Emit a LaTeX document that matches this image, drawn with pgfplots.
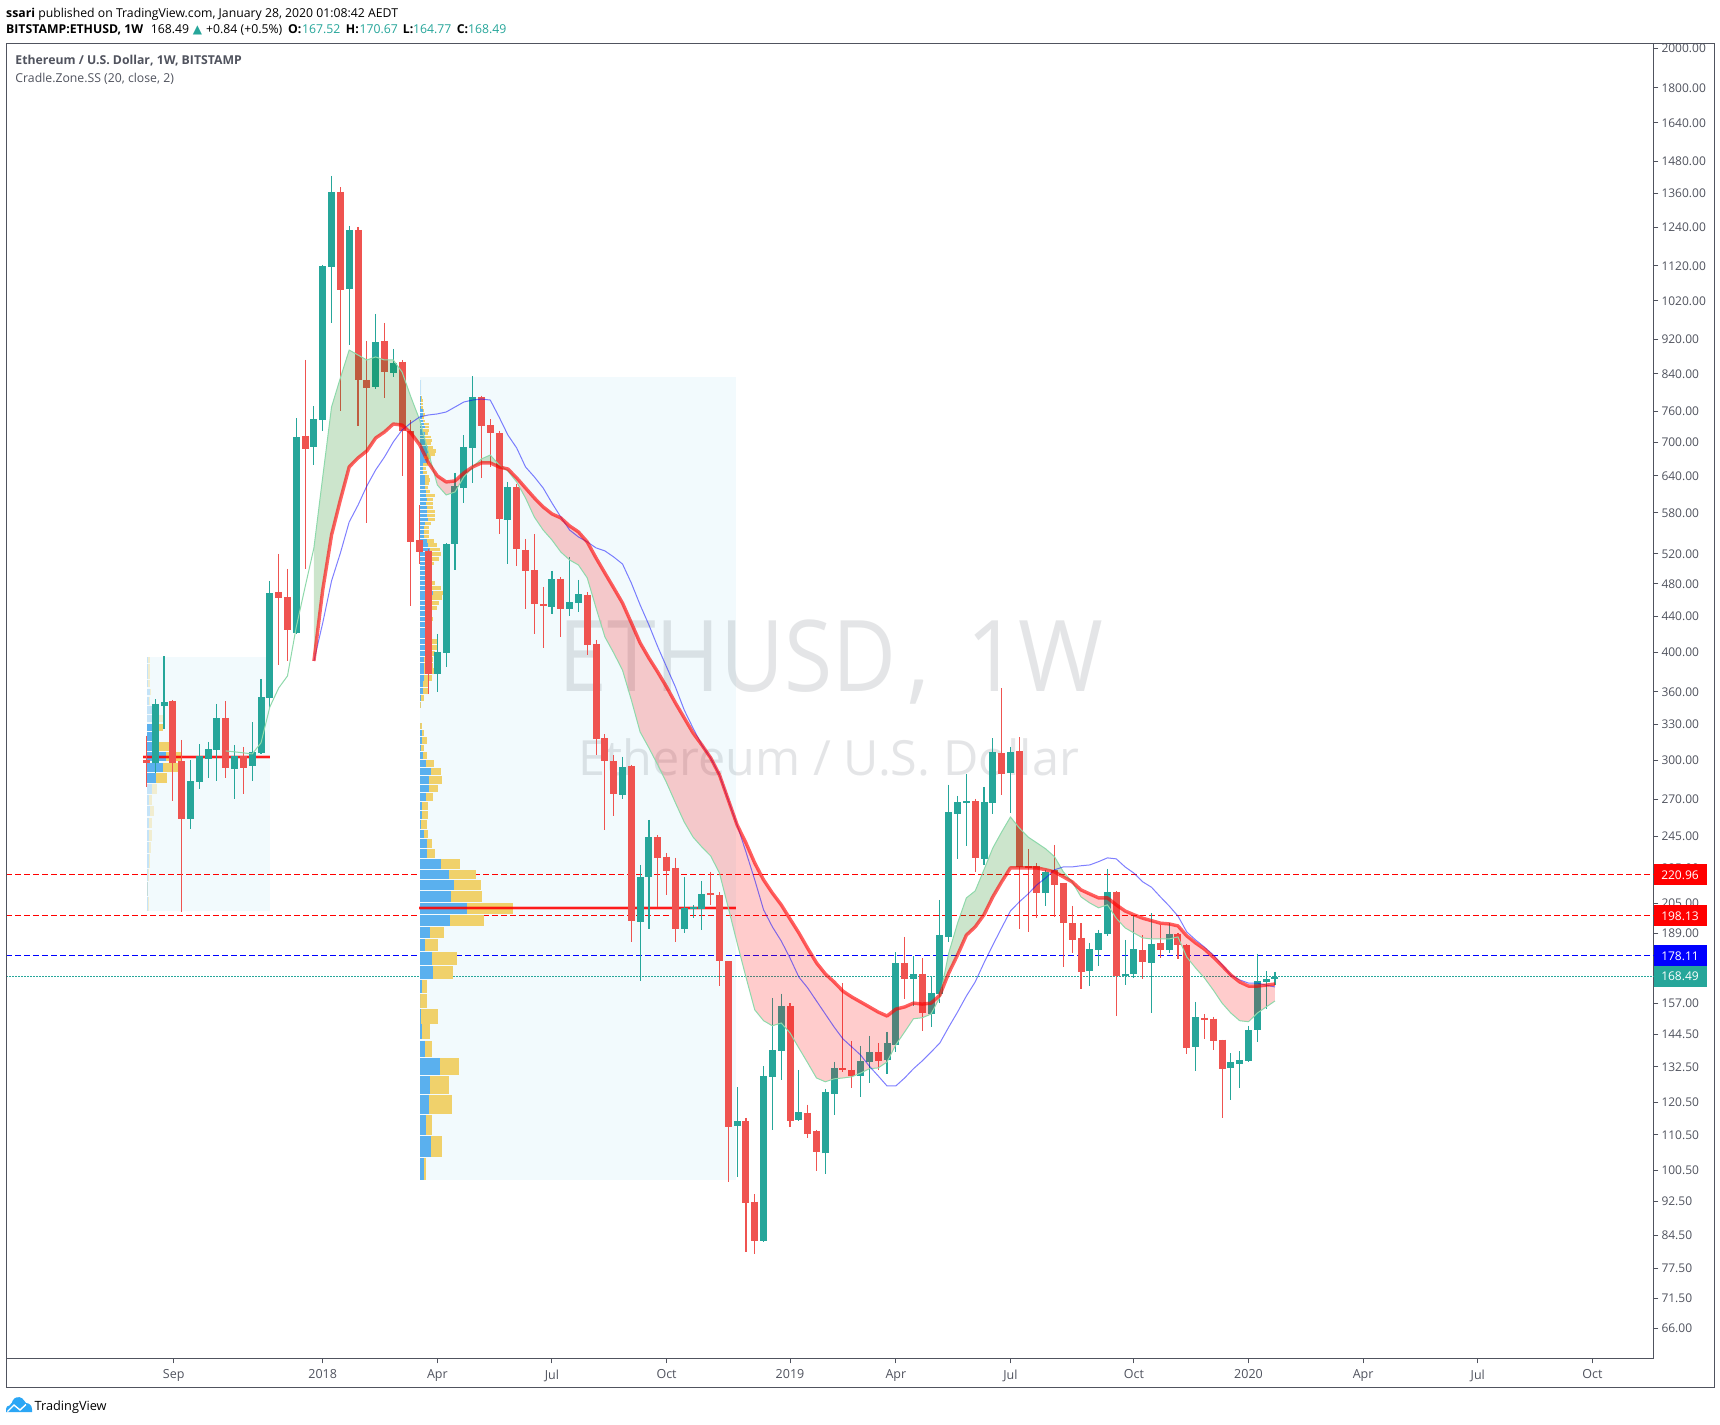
\documentclass[border=0pt]{standalone}
\usepackage{fontspec}
\usepackage{pgfplots}
\usepackage{pgfplotstable}
\pgfplotsset{compat=1.18}
\setmainfont{Open Sans}
\newfontfamily\symfont{DejaVu Sans}
\definecolor{tvteal}{HTML}{26A69A}
\definecolor{tvred}{HTML}{EF5350}
\definecolor{frame}{HTML}{50535E}
\definecolor{boxbg}{HTML}{F2FAFD}
\definecolor{vpblue}{HTML}{5AB0EE}
\definecolor{vpyel}{HTML}{F0D16B}
\definecolor{grline}{HTML}{8ED9AB}
\definecolor{logo}{HTML}{2BA6F5}
\definecolor{zonegreen}{RGB}{0,128,0}
\definecolor{wmark}{RGB}{50,60,70}
\newcommand{\cu}[5]{\addplot[tvteal,line width=1.1pt,forget plot] coordinates {(#1,#3)(#1,#4)};\addplot[tvteal,line width=7pt,forget plot] coordinates {(#1,#2)(#1,#5)};}
\newcommand{\cd}[5]{\addplot[tvred,line width=1.1pt,forget plot] coordinates {(#1,#3)(#1,#4)};\addplot[tvred,line width=7pt,forget plot] coordinates {(#1,#2)(#1,#5)};}
% volume profile row: centre price, half height (px), blue and total length (px)
\newcommand{\vleft}{0}
\newcommand{\V}[4]{%
 \pgfmathsetmacro\vlo{#1*(1-#2/375.2)}\pgfmathsetmacro\vhi{#1*(1+#2/375.2)}%
 \pgfmathsetmacro\vb{\vleft+#3/8.817}\pgfmathsetmacro\vy{\vleft+#4/8.817}%
 \addplot[fill=vpyel,draw=none,forget plot] coordinates {(\vb,\vlo)(\vy,\vlo)(\vy,\vhi)(\vb,\vhi)} --cycle;
 \addplot[fill=vpblue,draw=none,forget plot] coordinates {(\vleft,\vlo)(\vb,\vlo)(\vb,\vhi)(\vleft,\vhi)} --cycle;}
\newcommand{\Vp}[4]{%
 \pgfmathsetmacro\vlo{#1*(1-#2/375.2)}\pgfmathsetmacro\vhi{#1*(1+#2/375.2)}%
 \pgfmathsetmacro\vb{\vleft+#3/8.817}\pgfmathsetmacro\vy{\vleft+#4/8.817}%
 \addplot[fill=vpyel,draw=none,fill opacity=.3,forget plot] coordinates {(\vb,\vlo)(\vy,\vlo)(\vy,\vhi)(\vb,\vhi)} --cycle;
 \addplot[fill=vpblue,draw=none,fill opacity=.3,forget plot] coordinates {(\vleft,\vlo)(\vb,\vlo)(\vb,\vhi)(\vleft,\vhi)} --cycle;}
\pgfplotstableread{
i r b g
19 390.8 390.8 528.2
20 472.2 432.5 638.3
21 546.7 483.8 769
22 600.2 521 830.9
23 655.4 566 895
24 671.3 592 883.3
25 684 623 871.6
26 708 650.2 878.7
27 719.4 673 871.6
28 734.9 700.6 871.6
29 733 723.4 844
30 717.5 737 789.7
31 695 748.9 742.8
32 662.5 752.9 680.3
33 640 755 624.7
34 629.7 758.9 608.3
35 631.5 769 613.2
36 645 779.4 638.3
37 655.4 783.5 655.4
38 662.5 785.6 669.6
39 662.5 783.5 676.6
40 655.4 748.9 659
41 651.9 713.6 648.4
42 636.5 689.4 629.7
43 619.7 655.4 603.4
44 603.4 638.3 573.5
45 589.2 619.7 554
46 578.3 595.4 539.5
47 572.2 573.5 522.5
48 560 554 511.5
49 551.2 543.9 504.7
50 536.7 536.7 487.6
51 514.2 528.2 450
52 494 524 416.7
53 474.8 515.6 399.3
54 456 506 381.4
55 432.5 481 352.3
56 410 453.7 323.4
57 393.8 430 309.9
58 379.4 405.7 296.2
59 364.6 384.6 282.4
60 349.4 364.6 267.8
61 335.8 342.9 254.4
62 322.6 326.8 244.4
63 312.4 312.4 238
64 301.8 301.8 232.4
65 288.4 288.4 222
66 269.8 269.8 202.4
67 252.4 252.4 184.3
68 240.6 234.9 168.3
69 228 218 154.2
70 218 201.3 149.8
71 210.5 192.4 147.8
72 204 185.3 148.9
73 196.5 177 145
74 189.3 168.3 139.3
75 181.7 163.5 133.9
76 174.8 157.9 128.6
77 169.7 152.5 127.3
78 166.1 147.3 128.3
79 162.1 142.7 128.6
80 159.6 139.7 129
81 157.5 136.7 130.3
82 155.4 132.7 131.8
83 153.3 129.3 132.1
84 151.7 125.9 134.2
85 154.5 125.9 140.5
86 155.4 128.6 145.4
87 157 131.8 150.6
88 156.6 134.6 151
89 157 137.8 152.5
90 160.4 141.2 159.6
91 170.1 147.3 179.4
92 178.5 153.3 194.3
93 188.2 160 207.8
94 192.4 166.1 211.7
95 198.7 174.8 224
96 208.4 183.3 237.4
97 216.9 191.9 247.7
98 225.1 200.7 257.8
99 225.1 205.6 250.4
100 225.1 210 244.4
101 225.1 215.2 240.6
102 224 219.2 236.8
103 222.7 224 231.9
104 219.8 225.7 222.7
105 216.9 225.7 216.9
106 212.3 226.4 208.4
107 210 226.9 205
108 207.8 228.9 202.4
109 207.8 231.2 204
110 204 230.6 196.9
111 200.7 225.7 191.9
112 198.7 222 189.3
113 196.9 216.9 186.8
114 195.6 213.8 186.3
115 194.3 208.4 186.3
116 193.9 203.4 186.3
117 192.9 198 187.3
118 187.8 189.8 177.5
119 184.3 185.8 172.4
120 181.3 182.3 167.9
121 177.5 178.5 162.6
122 173.4 173.9 157
123 169.2 169.2 152.9
124 166.1 167 149.8
125 164.3 165.6 149.4
126 164.3 165.6 152.9
127 164.7 164.7 155.4
128 165.2 163.9 157.9
}\lines
\begin{document}
\begin{tikzpicture}[x=1pt,y=1pt]
\fill[white] (0,0) rectangle (1720,1424);
\path[use as bounding box] (0,0) rectangle (1720,1424);
\begin{axis}[
  at={(6pt,65.5pt)},anchor=south west,scale only axis,
  width=1647.3pt,height=1315pt,
  xmin=-15.924,xmax=170.91,ymin=60.89,ymax=2026.3,
  ymode=log,clip=false,
  axis line style={color=frame,line width=1pt},
  tick align=outside,ytick pos=right,xtick pos=bottom,
  major tick length=5pt,
  every tick/.style={color=frame,line width=1pt},
  log ticks with fixed point,
  minor y tick num=0,minor ytick={},
  xtick={3.1,20,33,46,59,73,85,98,112,125,138,151,164},
  xticklabels={Sep,2018,Apr,Jul,Oct,2019,Apr,Jul,Oct,2020,Apr,Jul,Oct},
  ytick={66,71.5,77.5,84.5,92.5,100.5,110.5,120.5,132.5,144.5,157,172,189,205,225,245,270,300,330,360,400,440,480,520,580,640,700,760,840,920,1020,1120,1240,1360,1480,1640,1800,2000},
  yticklabels={66.00,71.50,77.50,84.50,92.50,100.50,110.50,120.50,132.50,144.50,157.00,172.00,189.00,205.00,225.00,245.00,270.00,300.00,330.00,360.00,400.00,440.00,480.00,520.00,580.00,640.00,700.00,760.00,840.00,920.00,1020.00,1120.00,1240.00,1360.00,1480.00,1640.00,1800.00,2000.00},
  yticklabel style={anchor=west,inner sep=0pt,text=frame,font=\fontsize{12}{14}\selectfont},
  xticklabel style={inner sep=0pt,text=frame,font=\fontsize{12.5}{14}\selectfont},
  yticklabel shift=3pt,xticklabel shift=6pt,
]
% boxes
\addplot[fill=boxbg,draw=none,forget plot] coordinates {(0.07,200.7)(14.02,200.7)(14.02,395.2)(0.07,395.2)} --cycle;
\addplot[fill=boxbg,draw=none,forget plot] coordinates {(31.03,98)(66.87,98)(66.87,833.7)(31.03,833.7)} --cycle;
% watermark
\node[anchor=base,text=wmark,text opacity=.13,font=\fontsize{99}{99}\selectfont] at (axis cs:77.65,360.7) {\scalebox{.887}[1]{ETHUSD}\hspace{11pt}\scalebox{.925}[1]{,}\hspace{36pt}\scalebox{.925}[1]{1W}};
\node[anchor=base,text=wmark,text opacity=.13,font=\fontsize{48.5}{49}\selectfont] at (axis cs:77.4,287.9) {Ethereum / U.S. Dollar};
% price lines
\addplot[red,line width=1pt,dash pattern=on 6pt off 3pt,forget plot] coordinates {(-15.924,220.96)(170.91,220.96)};
\addplot[red,line width=1pt,dash pattern=on 6pt off 3pt,forget plot] coordinates {(-15.924,198.13)(170.91,198.13)};
\addplot[blue,line width=1pt,dash pattern=on 6pt off 3pt,forget plot] coordinates {(-15.924,178.11)(170.91,178.11)};
\addplot[tvteal,line width=1pt,dash pattern=on 1.5pt off 1.5pt,forget plot] coordinates {(-15.924,168.49)(170.91,168.49)};
% volume profile 1
\renewcommand{\vleft}{0.07}
\Vp{391.9}{2.7}{1}{3}\Vp{384.3}{3.3}{1}{3}\Vp{376.2}{3.8}{1}{3}\Vp{367.6}{3.5}{1}{3}\Vp{359.9}{3.3}{2.7}{4}\Vp{351.7}{4}{2}{3}\Vp{343}{4}{6.3}{8.3}\Vp{335.2}{3.8}{8}{16}
\V{327.3}{3.8}{7}{16}\V{319.3}{4.5}{7}{12.3}\V{310.9}{4.5}{8}{22}\V{302.7}{4.5}{19}{35}\V{294.4}{4.3}{16.3}{30.7}\V{286.2}{5}{9.3}{20}
\Vp{278}{5}{5}{10}\Vp{269.9}{5}{2.3}{5}\Vp{261.9}{5.3}{3.3}{6.7}\Vp{253.7}{5.3}{2.3}{5}\Vp{245.6}{5.3}{2}{5}\Vp{237.7}{5.7}{2}{3.7}\Vp{229.2}{6.7}{1.7}{3}\Vp{221}{6}{1}{1.3}\Vp{213}{7}{.3}{1}\Vp{204.6}{7}{.5}{.7}
% volume profile 2
\renewcommand{\vleft}{31.03}
\Vp{810.4}{7.5}{.7}{.7}
\V{789.1}{1.3}{.7}{2}\V{782.1}{1.3}{1}{2.7}\V{775.2}{1.3}{1}{2.7}\V{768.3}{1.3}{1}{3.3}\V{761.5}{1.3}{3.3}{4.3}\V{754.2}{1.3}{2.7}{5.3}\V{747.5}{1.3}{2}{4}\V{740.9}{1.3}{3.3}{5.3}\V{734.9}{1.3}{4.3}{8.7}\V{729.1}{1.3}{5.3}{9.3}\V{722.6}{1.3}{3.3}{8.7}\V{716.3}{1.3}{5}{8}\V{710}{1.3}{5}{11}\V{703.6}{1.3}{5}{11.7}\V{697.5}{1.3}{5}{10.7}
\V{690.7}{1.6}{8.3}{12.7}\V{684}{1.6}{8.3}{16}\V{677.9}{1.6}{6.7}{15}\V{671.9}{1.6}{4}{10.7}\V{666}{1.6}{6.7}{8.3}\V{659.5}{1.6}{3.3}{7.7}\V{653.1}{1.6}{3.3}{6}\V{646.1}{1.6}{3.3}{6.7}\V{639.3}{1.6}{4.7}{9.3}\V{633.1}{1.6}{5}{10}\V{627}{1.6}{5}{9}\V{620.3}{1.6}{5}{8.3}\V{613.7}{1.6}{6}{10}\V{607.8}{1.6}{6}{15}\V{601.3}{1.6}{6.7}{13.3}\V{595}{1.6}{6}{13.3}\V{588.7}{1.6}{6.7}{12.7}\V{582.4}{1.6}{7.3}{14.7}\V{576.2}{1.6}{7.3}{14.7}\V{570.1}{1.6}{8.3}{15}\V{564.1}{1.6}{5}{10.7}
\V{557.6}{1.8}{4}{9.3}\V{551.2}{1.8}{4}{8.7}\V{544.8}{1.8}{4}{9}\V{538.1}{1.8}{6.7}{14.3}\V{532}{1.8}{8.3}{16.7}\V{525.8}{1.8}{10}{20}\V{519.4}{1.9}{9.3}{20.7}\V{512.9}{1.9}{8.3}{19}\V{506.7}{1.9}{5}{14}\V{500.4}{1.9}{5}{6}\V{493.8}{2}{5}{10}\V{487.7}{2}{5}{12}\V{481.6}{2}{6.7}{15.3}\V{475.3}{2}{8.3}{21.3}\V{468.9}{2}{12.7}{22.7}\V{462.7}{2.1}{10}{21.7}\V{456.2}{2.2}{7.7}{19}\V{449.7}{2.2}{6.7}{17.3}
\V{443.5}{2.3}{5}{6.7}\V{437.2}{2.3}{5}{12.7}\V{430.6}{2.4}{5}{8.3}\V{424.2}{2.4}{5}{11.7}\V{417.9}{2.4}{5}{10}\V{411.6}{2.4}{5}{16.7}\V{405.4}{2.5}{5}{18.3}\V{399}{2.6}{5}{15}\V{392.7}{2.6}{4.3}{13.3}\V{386.4}{2.6}{4.3}{13.3}\V{380.3}{2.7}{4}{15}\V{373.6}{2.8}{4}{12}\V{367.4}{2.8}{3.3}{9.3}\V{361.2}{3}{3.3}{8.3}\V{354.2}{3}{1.3}{4}\V{347.7}{3}{0}{1}
\V{328.7}{2.8}{0}{2}\V{322.6}{2.8}{2}{4.3}\V{316.1}{3.3}{2}{7}\V{310}{3}{1}{4}\V{304}{3.5}{2.7}{7}\V{297.6}{3.5}{6.3}{14}\V{291.3}{3.5}{11.3}{21}\V{284.7}{4}{9}{22.3}\V{278.4}{3.5}{9}{18}\V{272.1}{4}{6}{13}\V{265.6}{4}{2}{8.3}\V{259.3}{4}{2}{8.3}\V{253}{4.5}{1}{7}\V{246.5}{4}{4}{8}\V{240.5}{4.5}{7}{12.3}\V{234.1}{4.5}{7}{15}\V{227.6}{5}{21}{40}\V{221.4}{4.5}{29}{56}\V{215.2}{5}{34}{61}\V{208.8}{5.5}{31}{62}\V{202.3}{5.5}{47}{93}\V{195.9}{5.5}{30}{64}\V{189.7}{5.5}{10}{24.3}\V{183.4}{6}{5}{18.3}\V{177}{6.5}{12}{37}\V{170.5}{6.5}{13}{33}\V{164.2}{6.5}{2}{7.3}\V{158}{7}{0}{7}\V{151.5}{7.5}{.5}{18}\V{145.4}{7.5}{2}{10}\V{139.1}{8}{5}{12}\V{132.6}{8.5}{20}{39}\V{126.3}{9}{10}{29}\V{120}{9.5}{9}{32}\V{113.5}{10}{6}{12}\V{107.2}{10.5}{11}{22}\V{101}{11}{4}{6}
% points of control
\addplot[red,line width=4pt,opacity=.25,forget plot] coordinates {(-0.4,302.3)(14.02,302.3)};
\addplot[red,line width=2pt,opacity=.85,forget plot] coordinates {(-0.4,302.3)(14.02,302.3)};
\addplot[red,line width=4pt,opacity=.25,forget plot] coordinates {(30.92,202.2)(66.87,202.2)};
\addplot[red,line width=2pt,opacity=.85,forget plot] coordinates {(30.92,202.2)(66.87,202.2)};
% candles: index, open, high, low, close
\cd{0}{300}{320}{279.5}{297.6}
\cu{1}{297.6}{353}{290}{348.5}
\cu{2}{346.6}{396}{326}{350.4}
\cd{3}{351.3}{352.3}{269}{298}
\cd{4}{299}{316.6}{200.3}{256.6}
\cu{5}{256.6}{300}{250}{283.8}
\cu{6}{283.3}{313.2}{278}{303.4}
\cu{7}{301}{315}{286}{309}
\cu{8}{308.3}{348.5}{283.8}{335.8}
\cd{9}{335.8}{351}{286}{293.8}
\cu{10}{293}{312.4}{270.5}{303.4}
\cd{11}{303.4}{310.8}{274}{293.8}
\cu{12}{295.4}{332}{283.8}{306.7}
\cu{13}{305.9}{372.6}{305}{355}
\cu{14}{354}{483.8}{344.8}{468.5}
\cd{15}{469.7}{519.8}{386.7}{462.2}
\cd{16}{463.5}{499.4}{390.8}{424.5}
\cu{17}{421}{746.8}{420}{710}
\cd{18}{712}{871.6}{499.4}{687.6}
\cu{19}{691.3}{771}{659}{744.7}
\cu{20}{742.8}{1123}{721.5}{1120}
\cu{21}{1117}{1423.5}{962}{1364}
\cd{22}{1364}{1382}{761}{1050}
\cu{23}{1053}{1245.8}{907}{1232.7}
\cd{24}{1232.7}{1243}{731}{826.5}
\cd{25}{826.5}{917}{564.5}{809}
\cu{26}{811}{985.5}{807}{914.4}
\cd{27}{917}{962}{787.7}{844}
\cu{28}{842}{897.6}{833}{864.7}
\cd{29}{867}{871.6}{640}{721.5}
\cd{30}{721.5}{742.8}{452.5}{536.7}
\cd{31}{539.5}{592}{506}{522.5}
\cd{32}{524}{526.8}{358}{377.6}
\cu{33}{377.6}{420}{359.9}{400.2}
\cu{34}{399.3}{535}{384.6}{533.8}
\cu{35}{533.8}{645}{498}{623}
\cu{36}{619.7}{713.6}{595.4}{691.3}
\cu{37}{689.4}{835}{628}{789.7}
\cd{38}{789.7}{793}{636.5}{731}
\cd{39}{733}{744.7}{655.4}{717.5}
\cd{40}{717.5}{721.5}{548}{570.5}
\cu{41}{569}{629.7}{506}{621.4}
\cd{42}{621.4}{626.3}{503.5}{526.8}
\cd{43}{525.3}{541}{448.9}{496.7}
\cd{44}{498}{548}{420}{454.9}
\cd{45}{454.9}{476}{404.6}{452.5}
\cu{46}{451.3}{496.7}{443}{486.2}
\cd{47}{486.2}{488.8}{416.7}{448.9}
\cu{48}{448.9}{515.6}{440.6}{457.4}
\cu{49}{456}{485}{445.3}{467.2}
\cd{50}{466}{469.7}{397.1}{407.9}
\cd{51}{409}{413.3}{304}{317.4}
\cd{52}{318.2}{321.6}{249.3}{299}
\cd{53}{299.4}{304}{258.6}{274}
\cu{54}{273.4}{302.6}{270.5}{294.6}
\cd{55}{295.4}{296.2}{184.8}{195.6}
\cu{56}{195}{226.9}{166.7}{219.8}
\cu{57}{219.8}{255.8}{191.3}{244.4}
\cd{58}{244.4}{245.8}{202.9}{231.2}
\cd{59}{231.9}{234.2}{209.4}{223.3}
\cd{60}{225.1}{231.2}{184.8}{191.3}
\cu{61}{191.3}{219.8}{189.3}{202.4}
\cu{62}{201.9}{204}{196.9}{202.9}
\cu{63}{201.9}{217.5}{190.8}{210}
\cd{64}{210.5}{222.7}{204}{209.4}
\cd{65}{209.4}{211}{164.3}{175.6}
\cd{66}{175.6}{175.6}{97.5}{112.9}
\cu{67}{113.2}{125.5}{98.8}{114.7}
\cd{68}{114.7}{115.6}{80.9}{92.2}
\cd{69}{92.5}{94.3}{80.5}{83.3}
\cu{70}{83.3}{132.7}{83.1}{129.3}
\cu{71}{129}{159.2}{112}{138.6}
\cu{72}{138.3}{161}{128}{155.8}
\cd{73}{155.8}{157}{112.9}{114.7}
\cu{74}{115}{131.4}{114.7}{117.5}
\cd{75}{117.2}{119.8}{109.7}{110.9}
\cd{76}{111.6}{112}{100.4}{105.5}
\cu{77}{105.2}{124.9}{99.6}{123.9}
\cu{78}{123.3}{134.2}{116.5}{132}
\cd{79}{132}{165.6}{130.8}{131.4}
\cd{80}{131.4}{142}{125.2}{129.3}
\cu{81}{129.3}{140.1}{122.3}{134.6}
\cu{82}{134.2}{143.9}{126.9}{137.8}
\cd{83}{137.8}{141.2}{131.4}{134.6}
\cu{84}{134.9}{145.4}{130}{141.2}
\cu{85}{140.5}{179.9}{137.8}{174.8}
\cd{86}{174.8}{187.3}{158.7}{167.4}
\cu{87}{167.4}{178}{155.8}{169.7}
\cd{88}{169.7}{177}{145.8}{152.9}
\cu{89}{152.5}{168.8}{147.3}{161.3}
\cu{90}{161}{206.7}{157}{188.2}
\cu{91}{187.5}{281}{184.8}{261.4}
\cu{92}{259.9}{272.7}{230.6}{268.3}
\cu{93}{267.8}{289}{238.7}{269}
\cd{94}{269}{270.5}{222.7}{231.2}
\cu{95}{230.6}{279.4}{226.9}{268.3}
\cu{96}{267.8}{318.2}{259.9}{306.7}
\cd{97}{305.9}{363.6}{273.4}{289}
\cu{98}{289.8}{310.8}{260.5}{306.7}
\cd{99}{307.5}{319}{191.3}{225.7}
\cd{100}{226.4}{236.8}{189.8}{225.1}
\cd{101}{226.4}{228}{196.9}{210.5}
\cu{102}{210.5}{224}{203.4}{222.7}
\cd{103}{224}{239.4}{197.5}{215.2}
\cd{104}{216.3}{216.3}{172.9}{194.3}
\cd{105}{194.3}{203.4}{179.4}{185.8}
\cd{106}{186.8}{194.3}{163}{170.5}
\cu{107}{171}{184.3}{164.3}{181.3}
\cu{108}{180.8}{190.8}{173.4}{189.3}
\cu{109}{188.8}{224.5}{187.8}{211}
\cd{110}{211}{211.6}{151.7}{168.8}
\cu{111}{168.8}{185.8}{164.7}{169.7}
\cu{112}{169.7}{198.4}{167.8}{181.3}
\cd{113}{180.8}{188.2}{167.4}{175.2}
\cu{114}{174.8}{199.4}{152.9}{183.8}
\cd{115}{184.3}{193.4}{177}{180.8}
\cu{116}{180.8}{194.3}{179.4}{188.8}
\cd{117}{188.8}{189.3}{176.5}{183.3}
\cd{118}{183.3}{183.8}{137.1}{139.3}
\cu{119}{139.7}{157.5}{131}{151.4}
\cd{120}{151}{152.5}{142.7}{150.2}
\cd{121}{150.6}{151.4}{138.6}{142}
\cd{122}{142.4}{142.4}{115.6}{131.8}
\cu{123}{132}{137.4}{121.3}{134.2}
\cu{124}{133.5}{138}{125.2}{134.9}
\cu{125}{134.6}{147.8}{134.2}{146.2}
\cu{126}{146.2}{179}{141.6}{166.6}
\cu{127}{166.2}{171}{154.5}{167.5}
\cu{128}{167.52}{170.67}{164.77}{168.49}
% Cradle zone fills: upper edge forward, lower edge back
\addplot[fill=zonegreen,fill opacity=.2,draw=none,forget plot] coordinates {(19,390.8)(20,472.2)(21,546.7)(22,600.2)(23,655.4)(24,671.3)(25,684)(26,708)(27,719.4)(28,734.9)(29,733)(30,717.5)(31,695)(32,662.5)(32.53,650.5)(32,680.3)(31,742.8)(30,789.7)(29,844)(28,871.6)(27,871.6)(26,878.7)(25,871.6)(24,883.3)(23,895)(22,830.9)(21,769)(20,638.3)(19,528.2)} --cycle;
\addplot[fill=red,fill opacity=.2,draw=none,forget plot] coordinates {(32.53,650.5)(33,640)(34,629.7)(35,631.5)(36,645)(37,655.4)(36,638.3)(35,613.2)(34,608.3)(33,624.7)} --cycle;
\addplot[fill=zonegreen,fill opacity=.2,draw=none,forget plot] coordinates {(37,655.4)(38,662.5)(39,662.5)(40,655.4)(40.5,653.6)(40,659)(39,676.6)(38,669.6)} --cycle;
\addplot[fill=red,fill opacity=.2,draw=none,forget plot] coordinates {(40.5,653.6)(41,651.9)(42,636.5)(43,619.7)(44,603.4)(45,589.2)(46,578.3)(47,572.2)(48,560)(49,551.2)(50,536.7)(51,514.2)(52,494)(53,474.8)(54,456)(55,432.5)(56,410)(57,393.8)(58,379.4)(59,364.6)(60,349.4)(61,335.8)(62,322.6)(63,312.4)(64,301.8)(65,288.4)(66,269.8)(67,252.4)(68,240.6)(69,228)(70,218)(71,210.5)(72,204)(73,196.5)(74,189.3)(75,181.7)(76,174.8)(77,169.7)(78,166.1)(79,162.1)(80,159.6)(81,157.5)(82,155.4)(83,153.3)(84,151.7)(85,154.5)(86,155.4)(87,157)(88,156.6)(89,157)(90,160.4)(90.09,161.2)(90,159.6)(89,152.5)(88,151)(87,150.6)(86,145.4)(85,140.5)(84,134.2)(83,132.1)(82,131.8)(81,130.3)(80,129)(79,128.6)(78,128.3)(77,127.3)(76,128.6)(75,133.9)(74,139.3)(73,145)(72,148.9)(71,147.8)(70,149.8)(69,154.2)(68,168.3)(67,184.3)(66,202.4)(65,222)(64,232.4)(63,238)(62,244.4)(61,254.4)(60,267.8)(59,282.4)(58,296.2)(57,309.9)(56,323.4)(55,352.3)(54,381.4)(53,399.3)(52,416.7)(51,450)(50,487.6)(49,504.7)(48,511.5)(47,522.5)(46,539.5)(45,554)(44,573.5)(43,603.4)(42,629.7)(41,648.4)} --cycle;
\addplot[fill=zonegreen,fill opacity=.2,draw=none,forget plot] coordinates {(90.09,161.2)(91,170.1)(92,178.5)(93,188.2)(94,192.4)(95,198.7)(96,208.4)(97,216.9)(98,225.1)(99,225.1)(100,225.1)(101,225.1)(102,224)(103,222.7)(104,219.8)(105,216.9)(104,222.7)(103,231.9)(102,236.8)(101,240.6)(100,244.4)(99,250.4)(98,257.8)(97,247.7)(96,237.4)(95,224)(94,211.7)(93,207.8)(92,194.3)(91,179.4)} --cycle;
\addplot[fill=red,fill opacity=.2,draw=none,forget plot] coordinates {(105,216.9)(106,212.3)(107,210)(108,207.8)(109,207.8)(110,204)(111,200.7)(112,198.7)(113,196.9)(114,195.6)(115,194.3)(116,193.9)(117,192.9)(118,187.8)(119,184.3)(120,181.3)(121,177.5)(122,173.4)(123,169.2)(124,166.1)(125,164.3)(126,164.3)(127,164.7)(128,165.2)(128,157.9)(127,155.4)(126,152.9)(125,149.4)(124,149.8)(123,152.9)(122,157)(121,162.6)(120,167.9)(119,172.4)(118,177.5)(117,187.3)(116,186.3)(115,186.3)(114,186.3)(113,186.8)(112,189.3)(111,191.9)(110,196.9)(109,204)(108,202.4)(107,205)(106,208.4)} --cycle;
\addplot[grline,line width=1pt,forget plot] coordinates {(9,307.5)(10,306.7)(11,305.9)(12,305)(13,314.2)(14,345.7)(15,363.6)(16,375.5)(17,427.9)(18,476)(19,528.2)};
\addplot[grline,line width=1pt,forget plot] table[x=i,y=g]{\lines};
\addplot[blue,opacity=.5,line width=1pt,forget plot] table[x=i,y=b]{\lines};
\addplot[red,opacity=.62,line width=3.4pt,line join=round,forget plot] table[x=i,y=r]{\lines};
\coordinate (p1) at (axis cs:170.91,220.96);
\coordinate (p2) at (axis cs:170.91,198.13);
\coordinate (p3) at (axis cs:170.91,178.11);
\coordinate (p4) at (axis cs:170.91,168.49);
\end{axis}
\foreach \p/\c/\t in {p1/red/220.96,p2/red/198.13,p3/blue/178.11,p4/tvteal/168.49}
  \node[anchor=west,inner sep=0pt,fill=\c,text=white,minimum width=53pt,minimum height=21pt,font=\fontsize{12}{14}\selectfont] at (\p) {\t};
\draw[frame,line width=1pt] (6,37) rectangle (1714,1380.5);
% header
\newcommand{\T}[4][]{\node[anchor=base west,inner sep=0pt,font=\fontsize{12.25}{14}\selectfont,#1] at (#2,1424-#3) {#4};}
\T{6}{17.3}{\textbf{ssari} published on TradingView.com, January 28, 2020 01:08:42 AEDT}
\T{6}{34}{\textbf{BITSTAMP:ETHUSD, 1W}}
\T{150.7}{34}{168.49}
\T[text=tvteal]{192.7}{34}{{\symfont\fontsize{12}{14}\selectfont ▲}}
\T{206}{34}{+0.84 (+0.5\%)}
\T{288}{34}{\textbf{O:}}\T[text=tvteal]{302}{34}{167.52}
\T{345.7}{34}{\textbf{H:}}\T[text=tvteal]{359.3}{34}{170.67}
\T{402.7}{34}{\textbf{L:}}\T[text=tvteal]{413}{34}{164.77}
\T{456.7}{34}{\textbf{C:}}\T[text=tvteal]{468}{34}{168.49}
\T[text=frame]{15.3}{65}{\textbf{Ethereum / U.S. Dollar, 1W, BITSTAMP}}
\T[text=frame]{15.3}{82.3}{Cradle.Zone.SS (20, close, 2)}
% footer
\fill[logo] (6,12) -- (6,15) arc (180:90:3.5) -- (12,21.5) arc (170:30:6.5) -- (26,21) arc (90:0:6) -- (32,12) -- cycle;
\draw[white,line width=1.4pt] (7.5,12.5) -- (14,19) -- (20,14) -- (26,19.5);
\node[anchor=base west,inner sep=0pt,font=\fontsize{12.75}{15}\selectfont] at (34.5,1424-1410) {TradingView};
\end{tikzpicture}
\end{document}
